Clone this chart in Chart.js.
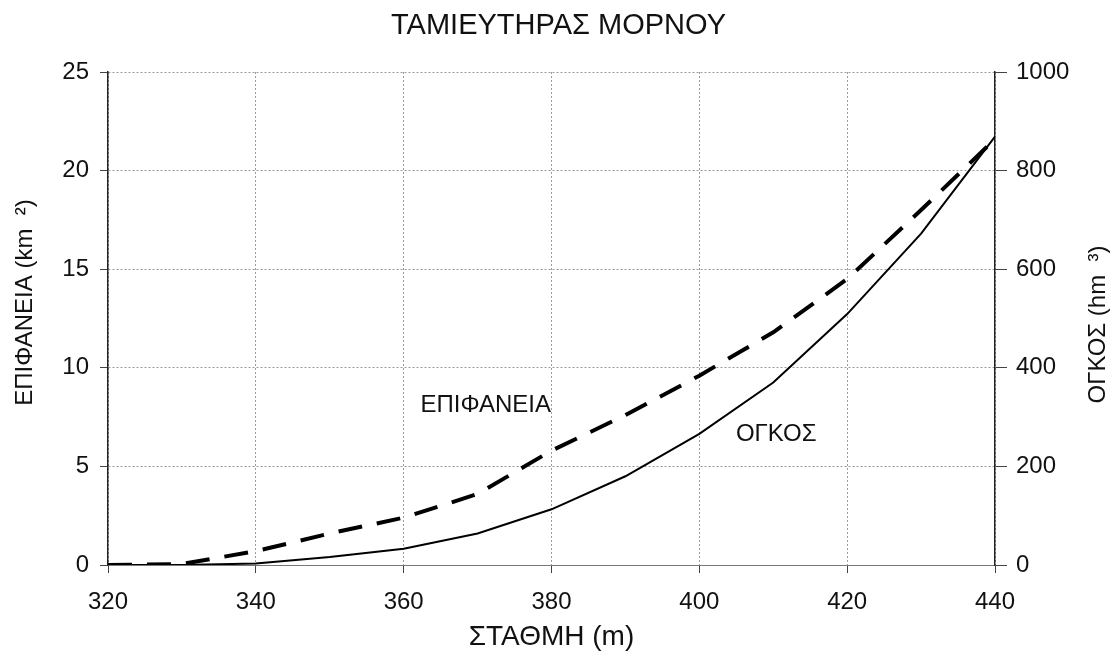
<!DOCTYPE html>
<html>
<head>
<meta charset="utf-8">
<script src="https://cdn.jsdelivr.net/npm/chart.js@4"></script>
<style>
html,body{margin:0;padding:0;background:#fff;}
#wrap{width:1117px;height:654px;position:relative;}
</style>
</head>
<body>
<div id="wrap"><canvas id="c" width="1117" height="654"></canvas></div>
<script>
// --- data ---
const levels = [320, 330, 340, 350, 360, 370, 380, 390, 400, 410, 420, 430, 440]; // ΣΤΑΘΜΗ (m)
const surface = [0, 0.05, 0.7, 1.6, 2.4, 3.6, 5.8, 7.6, 9.6, 11.8, 14.5, 18.0, 21.6]; // km2
const volume = [0, 0, 3, 16, 33, 64, 113, 180, 266, 370, 509, 672, 869]; // hm3
const xTicks = [320, 340, 360, 380, 400, 420, 440];
const leftTicks = [0, 5, 10, 15, 20, 25];
const rightTicks = [0, 200, 400, 600, 800, 1000];
const titleText = 'ΤΑΜΙΕΥΤΗΡΑΣ ΜΟΡΝΟΥ';
const xTitle = 'ΣΤΑΘΜΗ (m)';
const leftTitle = 'ΕΠΙΦΑΝΕΙΑ (km  ²)';
const rightTitle = 'ΟΓΚΟΣ (hm  ³)';
const seriesLabels = ['ΕΠΙΦΑΝΕΙΑ', 'ΟΓΚΟΣ'];

const FONT = '"Liberation Sans", Arial, sans-serif';
const gridStyle = {color: '#9a9a9a', lineWidth: 1, tickColor: '#444', tickLength: 8};

const inlineLabels = {
  id: 'inlineLabels',
  afterDatasetsDraw(chart) {
    const ctx = chart.ctx, x = chart.scales.x, y = chart.scales.y;
    const spots = [
      {text: seriesLabels[0], xv: 371.1, yv: 8.1},
      {text: seriesLabels[1], xv: 410.4, yv: 6.6}
    ];
    ctx.save();
    ctx.fillStyle = '#111';
    ctx.font = '24px ' + FONT;
    ctx.textAlign = 'center';
    ctx.textBaseline = 'middle';
    spots.forEach(s => ctx.fillText(s.text, x.getPixelForValue(s.xv), y.getPixelForValue(s.yv)));
    ctx.restore();
  }
};

const axisTitles = {
  id: 'axisTitles',
  afterDraw(chart) {
    const ctx = chart.ctx, a = chart.chartArea;
    ctx.save();
    ctx.fillStyle = '#111';
    ctx.font = '24px ' + FONT;
    ctx.textAlign = 'center';
    ctx.textBaseline = 'middle';
    const midY = (a.top + a.bottom) / 2;
    // left title, reading bottom-to-top
    ctx.save();
    ctx.translate(25, midY - 16);
    ctx.rotate(-Math.PI / 2);
    ctx.fillText(leftTitle, 0, 0);
    ctx.restore();
    // right title, also reading bottom-to-top
    ctx.save();
    ctx.translate(1098, midY + 6);
    ctx.rotate(-Math.PI / 2);
    ctx.fillText(rightTitle, 0, 0);
    ctx.restore();
    ctx.restore();
  }
};

new Chart(document.getElementById('c'), {
  type: 'line',
  data: {
    datasets: [
      {
        label: seriesLabels[0],
        data: levels.map((l, i) => ({x: l, y: surface[i]})),
        yAxisID: 'y',
        borderColor: '#000',
        borderWidth: 4,
        borderDash: [24, 15],
        pointRadius: 0,
        tension: 0,
        fill: false
      },
      {
        label: seriesLabels[1],
        data: levels.map((l, i) => ({x: l, y: volume[i]})),
        yAxisID: 'y1',
        borderColor: '#000',
        borderWidth: 2,
        pointRadius: 0,
        tension: 0,
        fill: false
      }
    ]
  },
  options: {
    responsive: false,
    animation: false,
    layout: {padding: 0},
    plugins: {
      legend: {display: false},
      tooltip: {enabled: false},
      title: {
        display: true,
        text: titleText,
        color: '#111',
        font: {family: FONT, size: 29, weight: 'normal', lineHeight: 1.2},
        padding: {top: 8.6, bottom: 28.6}
      }
    },
    scales: {
      x: {
        type: 'linear',
        min: 320, max: 440,
        afterBuildTicks(s) { s.ticks = xTicks.map(v => ({value: v})); },
        afterFit(s) { s.height = 89; },
        grid: {...gridStyle},
        border: {display: true, color: '#777', width: 1, dash: [2, 2]},
        ticks: {color: '#111', font: {family: FONT, size: 24}, padding: 15, maxRotation: 0},
        title: {display: true, text: xTitle, color: '#111', font: {family: FONT, size: 28}, padding: {top: 0, bottom: 0}}
      },
      y: {
        type: 'linear', position: 'left',
        min: 0, max: 25,
        afterBuildTicks(s) { s.ticks = leftTicks.map(v => ({value: v})); },
        afterFit(s) { s.width = 108; },
        grid: {...gridStyle},
        border: {display: true, color: '#222', width: 1.5, dash: [2, 2]},
        ticks: {color: '#111', font: {family: FONT, size: 24}, padding: 11},
        title: {display: false}
      },
      y1: {
        type: 'linear', position: 'right',
        min: 0, max: 1000,
        afterBuildTicks(s) { s.ticks = rightTicks.map(v => ({value: v})); },
        afterFit(s) { s.width = 122; },
        grid: {drawOnChartArea: false, tickColor: '#444', tickLength: 12},
        border: {display: true, color: '#222', width: 1.5},
        ticks: {color: '#111', font: {family: FONT, size: 24}, padding: 9, callback: v => String(v)},
        title: {display: false}
      }
    }
  },
  plugins: [inlineLabels, axisTitles]
});
</script>
</body>
</html>
